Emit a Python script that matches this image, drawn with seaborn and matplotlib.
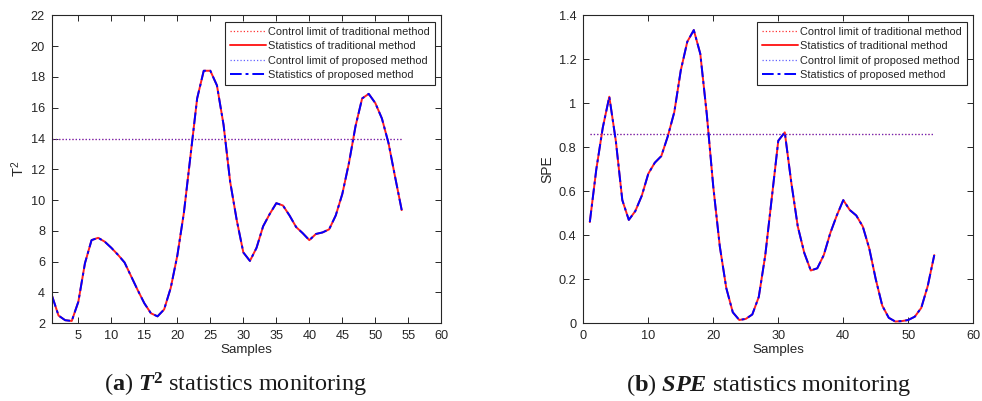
import numpy as np
import matplotlib
matplotlib.use('Agg')
import matplotlib.pyplot as plt
import seaborn as sns

# data
samples = np.arange(1, 55)
t2_values = [3.8, 2.5, 2.2, 2.15, 3.4, 5.9, 7.4, 7.55, 7.3, 6.9,
             6.45, 5.95, 5.05, 4.15, 3.3, 2.65, 2.45, 2.9, 4.3, 6.4,
             9.2, 12.9, 16.6, 18.4, 18.4, 17.45, 14.9, 11.2, 8.7, 6.6,
             6.05, 6.9, 8.3, 9.1, 9.8, 9.65, 9.0, 8.25, 7.85, 7.4,
             7.8, 7.9, 8.1, 9.0, 10.4, 12.4, 14.8, 16.6, 16.9, 16.3,
             15.3, 13.7, 11.5, 9.35]
spe_values = [0.46, 0.70, 0.89, 1.03, 0.83, 0.56, 0.47, 0.51, 0.58, 0.68,
              0.73, 0.76, 0.85, 0.96, 1.15, 1.28, 1.333, 1.225, 0.95, 0.62,
              0.35, 0.16, 0.05, 0.015, 0.02, 0.04, 0.12, 0.31, 0.57, 0.83,
              0.868, 0.64, 0.44, 0.32, 0.24, 0.25, 0.31, 0.41, 0.49, 0.56,
              0.515, 0.49, 0.44, 0.34, 0.2, 0.08, 0.025, 0.008, 0.01, 0.015,
              0.03, 0.07, 0.17, 0.31]
t2_limit = 13.96
spe_limit = 0.862

legend_labels = ['Control limit of traditional method',
                 'Statistics of traditional method',
                 'Control limit of proposed method',
                 'Statistics of proposed method']
captions = [r'($\mathbf{a}$) $\mathbfit{T}^{\mathbf{2}}$ statistics monitoring',
            r'($\mathbf{b}$) $\mathbfit{SPE}$ statistics monitoring']

sns.set_style('ticks')
plt.rcParams['font.family'] = ['Liberation Sans', 'DejaVu Sans']
plt.rcParams['mathtext.fontset'] = 'custom'
plt.rcParams['mathtext.rm'] = 'Liberation Serif'
plt.rcParams['mathtext.sf'] = 'Liberation Sans'
plt.rcParams['mathtext.bf'] = 'Liberation Serif:bold'
plt.rcParams['mathtext.it'] = 'Liberation Serif:italic'
plt.rcParams['mathtext.bfit'] = 'Liberation Serif:italic:bold'

fig = plt.figure(figsize=(9.82, 4.01), dpi=100)
ax1 = fig.add_axes([0.0529, 0.1938, 0.3965, 0.768])
ax2 = fig.add_axes([0.594, 0.1938, 0.3971, 0.768])


def draw(ax, values, limit):
    lim = np.full(len(samples), limit)
    sns.lineplot(x=samples, y=lim, ax=ax, color='#ff3030', lw=0.9,
                 linestyle=':', label=legend_labels[0])
    sns.lineplot(x=samples, y=values, ax=ax, color='#ff2020', lw=1.4,
                 linestyle='-', label=legend_labels[1])
    sns.lineplot(x=samples, y=lim, ax=ax, color='#2020ff', lw=0.9,
                 linestyle=':', alpha=0.7, label=legend_labels[2])
    sns.lineplot(x=samples, y=values, ax=ax, color='#0000ff', lw=1.4,
                 linestyle=(0, (6, 2, 1.5, 2)), label=legend_labels[3])
    leg = ax.legend(loc='upper right', fontsize=7.9, fancybox=False,
                    edgecolor='#262626', framealpha=1, handlelength=3.3,
                    labelspacing=0.4, borderpad=0.45, handletextpad=0.2,
                    borderaxespad=0.6)
    leg.get_frame().set_linewidth(0.8)
    ax.tick_params(direction='in', top=True, right=True, length=4,
                   width=0.7, labelsize=9.2, colors='#262626', pad=5)
    for s in ax.spines.values():
        s.set_linewidth(0.8)
        s.set_color('#262626')
    ax.set_xlabel('Samples', fontsize=9.6, color='#262626', labelpad=1)


draw(ax1, t2_values, t2_limit)
ax1.set_xlim(1, 60)
ax1.set_xticks(range(5, 61, 5))
ax1.set_ylim(2, 22)
ax1.set_yticks(range(2, 23, 2))
ax1.set_ylabel(r'$\mathsf{T}^{\mathsf{2}}$', fontsize=10.5, color='#262626',
               labelpad=3)

draw(ax2, spe_values, spe_limit)
ax2.set_xlim(0, 60)
ax2.set_xticks(range(0, 61, 10))
ax2.set_ylim(0, 1.4)
yt = [0, 0.2, 0.4, 0.6, 0.8, 1.0, 1.2, 1.4]
ax2.set_yticks(yt)
ax2.set_yticklabels(['0', '0.2', '0.4', '0.6', '0.8', '1', '1.2', '1.4'])
ax2.set_ylabel('SPE', fontsize=10, color='#262626', labelpad=3)

fig.text(0.240, 0.04, captions[0], fontsize=17.5, ha='center', va='center',
         family='Liberation Serif', color='#1a1a1a')
fig.text(0.783, 0.04, captions[1], fontsize=17.5, ha='center', va='center',
         family='Liberation Serif', color='#1a1a1a')

fig.savefig('out.png', dpi=100)
